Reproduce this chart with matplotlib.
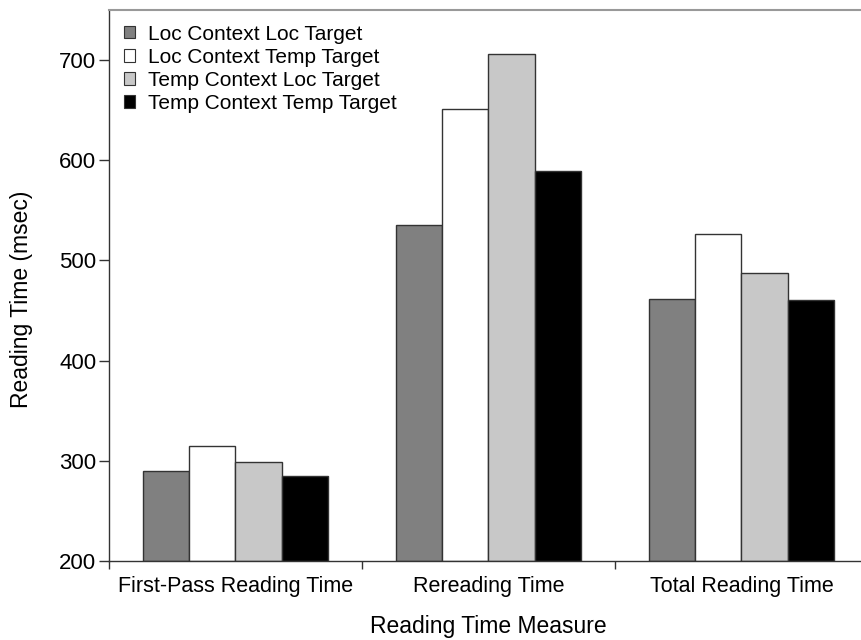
import matplotlib
matplotlib.use("Agg")
import matplotlib.pyplot as plt
import numpy as np
from matplotlib.patches import Patch

categories = ["First-Pass Reading Time", "Rereading Time", "Total Reading Time"]
series_names = ["Loc Context Loc Target", "Loc Context Temp Target",
                "Temp Context Loc Target", "Temp Context Temp Target"]
loc_loc = [290, 535, 462]
loc_temp = [315, 651, 526]
temp_loc = [299, 706, 487]
temp_temp = [285, 589, 461]
yticks = [200, 300, 400, 500, 600, 700]

series = [loc_loc, loc_temp, temp_loc, temp_temp]
colors = ["#808080", "#ffffff", "#c8c8c8", "#000000"]

plt.rcParams['font.family'] = ['Liberation Sans', 'DejaVu Sans']
fig = plt.figure(figsize=(8.61, 6.4), dpi=100)
ax = fig.add_axes([109/861, 1-561/640, (868-109)/861, (561-10)/640])

x = np.arange(len(categories))
w = 0.182
for i, (vals, c) in enumerate(zip(series, colors)):
    ax.bar(x + (i - 1.5) * w, np.array(vals) - 200, bottom=200, width=w,
           color=c, edgecolor="#333333", linewidth=1.0, zorder=2)

ax.set_xlim(-0.5, 2.5)
ax.set_ylim(200, 750)
ax.set_yticks(yticks)
ax.tick_params(axis='y', labelsize=16, length=7, width=1, color="#333333", pad=2)
ax.set_xticks(x)
ax.set_xticklabels(categories, fontsize=15.5)
ax.tick_params(axis='x', length=0, pad=11)
ax.set_xticks([-0.5, 0.5, 1.5], minor=True)
ax.tick_params(axis='x', which='minor', length=6, width=1, color="#333333")

for s in ["left", "bottom"]:
    ax.spines[s].set_color("#333333")
    ax.spines[s].set_linewidth(1.0)
ax.spines["top"].set_color("#999999")
ax.spines["top"].set_linewidth(1.5)
ax.spines["right"].set_visible(False)

ax.set_ylabel("Reading Time (msec)", fontsize=16.5)
ax.yaxis.set_label_coords(-0.1, 0.475)
ax.set_xlabel("Reading Time Measure", fontsize=16.5, labelpad=13)

handles = [Patch(facecolor=c, edgecolor="#333333", linewidth=0.8) for c in colors]
ax.legend(handles, series_names, loc="upper left", frameon=False, fontsize=15,
          handlelength=0.55, handleheight=0.55, handletextpad=0.6, labelspacing=0.2,
          borderaxespad=0.3, bbox_to_anchor=(0.0, 1.0))

fig.savefig("out.png", dpi=100)
